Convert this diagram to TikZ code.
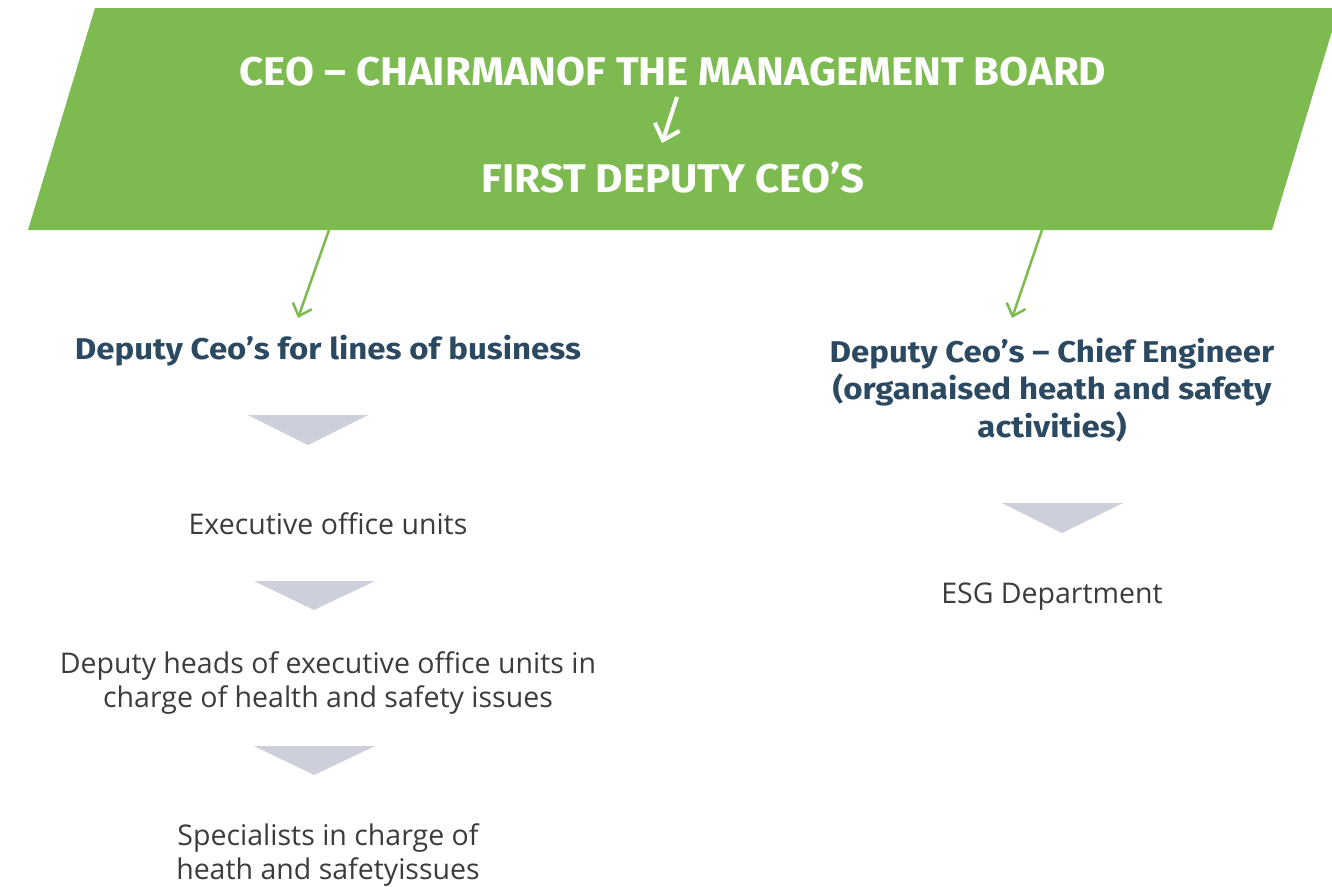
\documentclass[tikz,border=0pt]{standalone}
\usepackage{fontspec}
\setmainfont{Open Sans}
\newfontfamily\headfont[FakeStretch=1.05]{Fira Sans}
\newfontfamily\leadfont[FakeStretch=1.1]{Fira Sans}
\usetikzlibrary{arrows.meta}
\definecolor{bgreen}{HTML}{7DBA50}
\definecolor{bnavy}{HTML}{2B4A62}
\definecolor{bgray}{HTML}{3C3C3C}
\definecolor{btri}{HTML}{CDD0DA}

\tikzset{
	head/.style={text=white, font=\headfont\bfseries\fontsize{40}{48}\selectfont, align=center},
	lead/.style={text=bnavy, font=\leadfont\bfseries\fontsize{30}{37.5}\selectfont, align=center},
	unit/.style={text=bgray, font=\fontsize{28.5}{33.5}\selectfont, align=center},
	down/.style={fill=btri},
	link/.style={draw=bgreen, line width=2.5pt, -{Straight Barb[length=11pt,width=20pt]}},
}

\begin{document}
\begin{tikzpicture}[x=1pt,y=-1pt]
		\useasboundingbox (0,0) rectangle (1332,886);
		% green banner, running off the right edge
		\begin{scope}
			\clip (0,0) rectangle (1332,886);
			\fill[bgreen] (95,8) -- (1339,8) -- (1272,230) -- (28,230) -- cycle;
		\end{scope}
		\node[head] (ceo) at (673,72) {CEO – CHAIRMANOF THE MANAGEMENT BOARD};
		\node[head] (fdc) at (673,178) {FIRST DEPUTY CEO’S};
		\coordinate (ceofoot) at (677,97);
		\coordinate (fdctop) at (662,143);
		\draw[white, line width=4pt, -{Straight Barb[length=14pt,width=26pt]}] (ceofoot) -- (fdctop);

		% left column
		\node[lead, anchor=base] (lob) at (328,359) {Deputy Ceo’s for lines of business};
		\fill[down] (248,415) -- (368,415) -- (308,445) -- cycle;
		\node[unit, anchor=base] (exu) at (328,534) {Executive office units};
		\fill[down] (254,581) -- (375,581) -- (314,610) -- cycle;
		\node[unit] (dhd) at (328,683) {Deputy heads of executive office units in\\charge of health and safety issues};
		\fill[down] (254,746) -- (375,746) -- (314,775) -- cycle;
		\node[unit] (spc) at (328,855) {Specialists in charge of\\heath and safetyissues};

		% right column
		\node[lead] (eng) at (1052,390) {Deputy Ceo’s – Chief Engineer\\(organaised heath and safety\\activities)};
		\fill[down] (1002,503) -- (1123,503) -- (1062,533) -- cycle;
		\node[unit, anchor=base] (esg) at (1052,603) {ESG Department};

		% links from the banner
		\coordinate (lfoot) at (329,230);
		\coordinate (ltip) at (298,318);
		\coordinate (rfoot) at (1042,230);
		\coordinate (rtip) at (1012,318);
		\draw[link] (lfoot) -- (ltip);
		\draw[link] (rfoot) -- (rtip);
	\end{tikzpicture}
\end{document}
